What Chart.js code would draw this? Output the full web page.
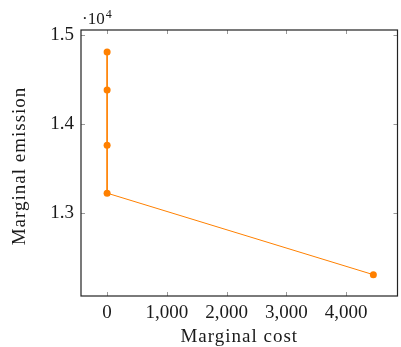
<!DOCTYPE html>
<html><head><meta charset="utf-8">
<script src="https://cdn.jsdelivr.net/npm/chart.js@4/dist/chart.umd.min.js"></script>
<style>html,body{margin:0;padding:0;background:#fff}#w{width:401px;height:347px;position:relative}</style>
</head><body><div id="w"><canvas id="c" width="401" height="347"></canvas></div>
<script>
const costValues = [0, 0, 0, 0, 4454];
const emissionValues = [14810, 14384, 13765, 13227, 12313];
const xTickValues = [0, 1000, 2000, 3000, 4000];
const yTickValues = [13000, 14000, 15000];
const xLabel = 'Marginal cost';
const yLabel = 'Marginal emission';
const yExponent = '4';

const FONT = '"Liberation Serif", "DejaVu Serif", serif';
const TXT = '#1a1a1a';
const boxTicks = {
  id: 'boxTicks',
  afterDraw(chart) {
    const {ctx, chartArea: a, scales: {x, y}} = chart;
    ctx.save();
    ctx.strokeStyle = '#999';
    ctx.lineWidth = 1;
    const L = 4;
    ctx.beginPath();
    xTickValues.forEach(v => {
      const px = Math.round(x.getPixelForValue(v)) + 0.5;
      ctx.moveTo(px, a.bottom); ctx.lineTo(px, a.bottom - L);
      ctx.moveTo(px, a.top); ctx.lineTo(px, a.top + L);
    });
    yTickValues.forEach(v => {
      const py = Math.round(y.getPixelForValue(v)) + 0.5;
      ctx.moveTo(a.left, py); ctx.lineTo(a.left + L, py);
      ctx.moveTo(a.right, py); ctx.lineTo(a.right - L, py);
    });
    ctx.stroke();
    ctx.strokeStyle = '#222';
    ctx.lineWidth = 1.2;
    ctx.strokeRect(a.left, a.top, a.right - a.left, a.bottom - a.top);
    // exponent label
    ctx.fillStyle = TXT;
    ctx.textBaseline = 'alphabetic';
    ctx.textAlign = 'left';
    ctx.font = '17px ' + FONT;
    ctx.fillText('\u00b710', a.left + 1, 24);
    const w = ctx.measureText('\u00b710').width;
    ctx.font = '12px ' + FONT;
    ctx.fillText(yExponent, a.left + 1 + w + 1, 18);
    // axis titles
    ctx.font = '19px ' + FONT;
    ctx.letterSpacing = '1px';
    ctx.textAlign = 'center';
    ctx.fillText(xLabel, (a.left + a.right) / 2, 342);
    ctx.translate(25, (a.top + a.bottom) / 2 + 3);
    ctx.rotate(-Math.PI / 2);
    ctx.fillText(yLabel, 0, 0);
    ctx.restore();
  }
};

new Chart(document.getElementById('c'), {
  type: 'scatter',
  data: {
    datasets: [{
      data: costValues.map((v, i) => ({x: v, y: emissionValues[i]})),
      showLine: true,
      borderColor: 'rgb(255,128,0)',
      backgroundColor: 'rgb(255,128,0)',
      borderWidth: 1,
      pointRadius: 3.5,
      pointHoverRadius: 3.5,
      pointBorderWidth: 0
    }]
  },
  options: {
    responsive: false,
    animation: false,
    devicePixelRatio: 1,
    layout: {padding: {top: 30, right: 2, left: 0, bottom: 0}},
    plugins: {legend: {display: false}, tooltip: {enabled: false}},
    scales: {
      x: {
        type: 'linear', min: -437, max: 4858,
        afterBuildTicks: s => { s.ticks = xTickValues.map(v => ({value: v})); },
        afterFit: s => { s.height = 51; },
        grid: {display: false, drawTicks: false},
        border: {display: false},
        ticks: {color: TXT, font: {family: FONT, size: 19}, padding: 6,
          callback: v => v.toLocaleString('en-US')},
        title: {display: false}
      },
      y: {
        type: 'linear', min: 12074, max: 15056,
        afterBuildTicks: s => { s.ticks = yTickValues.map(v => ({value: v})); },
        afterFit: s => { s.width = 81; },
        grid: {display: false, drawTicks: false},
        border: {display: false},
        ticks: {color: TXT, font: {family: FONT, size: 19}, padding: 7,
          callback: v => (v / 10000).toFixed(1)},
        title: {display: false}
      }
    }
  },
  plugins: [boxTicks]
});
</script></body></html>
